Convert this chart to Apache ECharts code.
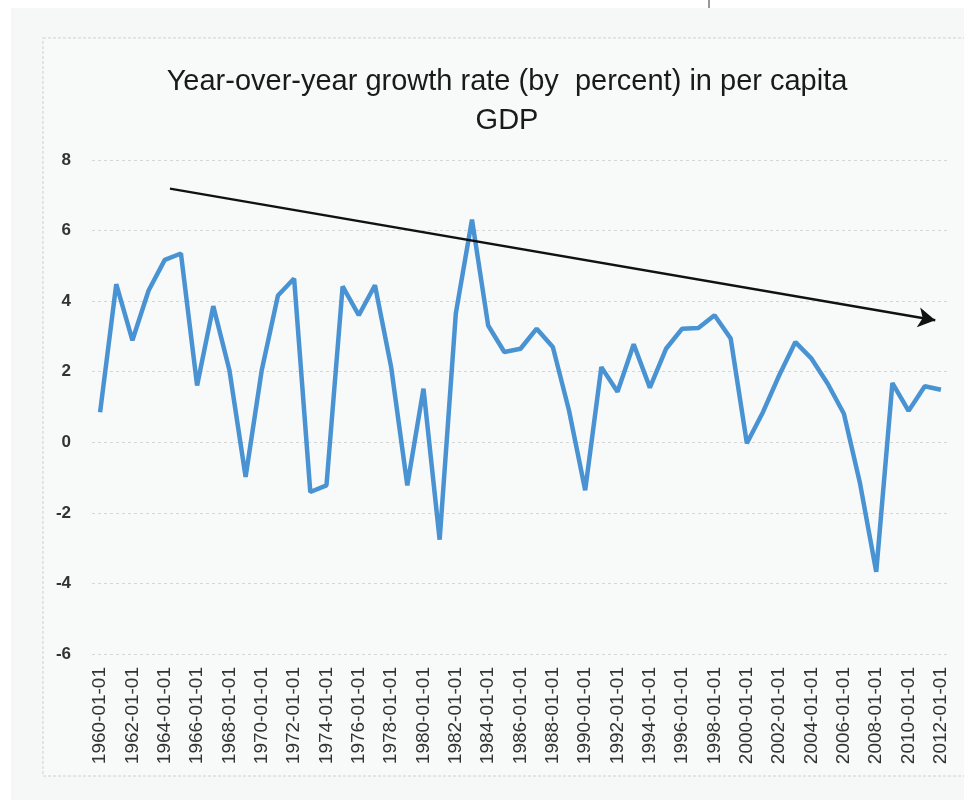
<!DOCTYPE html>
<html>
<head>
<meta charset="utf-8">
<script src="https://cdn.jsdelivr.net/npm/echarts@6/dist/echarts.min.js"></script>
<style>
  html, body { margin: 0; padding: 0; background: #ffffff; }
  #chart { width: 964px; height: 803px; }
</style>
</head>
<body>
<div id="chart"></div>
<script>
// Annual dates, one point per year
const years = [];
for (let y = 1960; y <= 2012; y++) years.push(y + '-01-01');

// Year-over-year growth of per capita GDP, percent
const growth = [
  0.85, 4.48, 2.89, 4.30, 5.17, 5.35, 1.61, 3.86, 2.04, -0.98,
  2.05, 4.16, 4.64, -1.41, -1.22, 4.42, 3.60, 4.45, 2.13, -1.22,
  1.52, -2.76, 3.65, 6.31, 3.31, 2.56, 2.65, 3.22, 2.70, 0.90,
  -1.36, 2.13, 1.43, 2.78, 1.55, 2.65, 3.22, 3.24, 3.60, 2.94,
  -0.03, 0.86, 1.90, 2.84, 2.37, 1.66, 0.81, -1.17, -3.67, 1.68,
  0.89, 1.59, 1.49
];

// Downward trend arrow: [year index, percent] for start and end
const trendStart = [4.32, 7.19];
const trendEnd = [51.65, 3.46];

const titleLines = ['Year-over-year growth rate (by  percent) in per capita', 'GDP'];

const chart = echarts.init(document.getElementById('chart'));
const textColor = '#333333';

chart.setOption({
  animation: false,
  backgroundColor: '#ffffff',
  graphic: [
    { type: 'rect', z: -10, shape: { x: 11, y: 8, width: 953, height: 792 },
      style: { fill: '#f6f7f7' } },
    { type: 'rect', z: -9, shape: { x: 43, y: 38, width: 940, height: 738 },
      style: { fill: '#f8f9f9', stroke: '#dcdede', lineWidth: 1.5, lineDash: [3, 2] } },
    { type: 'line', z: -8, shape: { x1: 709, y1: 0, x2: 709, y2: 8 },
      style: { stroke: '#333', lineWidth: 1 } }
  ],
  title: {
    text: titleLines.join('\n'),
    left: 502,
    textAlign: 'center',
    top: 57,
    textStyle: {
      fontFamily: 'Liberation Sans Narrow, Liberation Sans, sans-serif',
      fontSize: 29,
      fontWeight: 'normal',
      color: '#1a1a1a',
      lineHeight: 39
    }
  },
  grid: { left: 92, right: 15, top: 160, bottom: 149 },
  xAxis: [
    {
      type: 'category',
      data: years,
      boundaryGap: true,
      axisLine: { show: false },
      axisTick: { show: false },
      axisLabel: {
        interval: 1,
        rotate: 90,
        margin: 13,
        color: textColor,
        fontFamily: 'Liberation Sans Narrow, Liberation Sans, sans-serif',
        fontSize: 19
      }
    },
    {
      type: 'value',
      min: -0.5,
      max: 52.5,
      show: false
    }
  ],
  yAxis: {
    type: 'value',
    min: -6,
    max: 8,
    interval: 2,
    axisLine: { show: false },
    axisTick: { show: false },
    axisLabel: {
      margin: 21,
      color: textColor,
      fontFamily: 'Liberation Sans, sans-serif',
      fontSize: 17,
      fontWeight: 'bold'
    },
    splitLine: { lineStyle: { color: '#d6d6d6', width: 1, type: [3, 3] } }
  },
  series: [
    {
      type: 'line',
      data: growth,
      symbol: 'none',
      lineStyle: { color: '#4a93d3', width: 4.5 },
      z: 3
    },
    {
      type: 'line',
      xAxisIndex: 1,
      data: [],
      symbol: 'none',
      markLine: {
        silent: true,
        symbol: ['none', 'arrow'],
        symbolSize: [15, 17],
        label: { show: false },
        lineStyle: { color: '#111', width: 2.4, type: 'solid' },
        data: [[{ coord: trendStart }, { coord: trendEnd }]]
      },
      z: 4
    }
  ]
});
</script>
</body>
</html>
